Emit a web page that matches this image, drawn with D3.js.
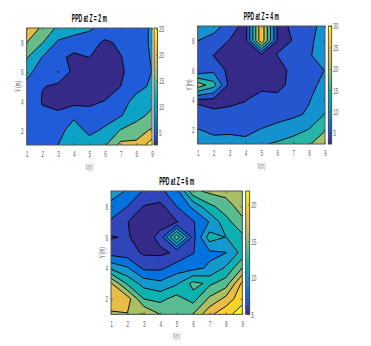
<!DOCTYPE html>
<html>
<head>
<meta charset="utf-8">
<script src="https://cdn.jsdelivr.net/npm/d3@7"></script>
<style>
  html, body { margin: 0; padding: 0; background: #fff; }
  svg { display: block; }
</style>
</head>
<body>
<script>
// grid points, one row per Y from 1 to 9, one column per X from 1 to 9
var xTicks = [1, 2, 3, 4, 5, 6, 7, 8, 9];
var yTicks = [2, 4, 6, 8];

var values2m = [
  8, 9, 10, 11, 12.7, 14.4, 21.5, 21, 28,
  8.2, 8, 7.8, 12.7, 8.5, 11, 15.3, 18, 20.6,
  7.5, 5.5, 5.4, 9, 6.4, 7.5, 9.7, 13, 16.5,
  7.5, 4.8, 4.3, 3.3, 4.2, 5.1, 7.3, 12, 13.5,
  8.5, 5.08, 4.7, 4, 3.2, 3.2, 5, 8, 11,
  11.5, 7.5, 6, 4.7, 3.5, 3, 4.1, 8, 10.05,
  15.4, 9.8, 6.5, 3.7, 5.05, 3.5, 4.8, 7.5, 10.4,
  20, 15.2, 9.2, 8, 7.2, 4.1, 5.9, 7.5, 10.8,
  23, 19.25, 13.9, 12, 10.8, 8.5, 8, 8.5, 10.45
];
var values4m = [
  12, 11.5, 11.5, 11, 14.5, 15.7, 17, 19.7, 22.2,
  10.1, 9, 9.2, 9, 10.1, 11.6, 13.2, 15.05, 19.7,
  5.7, 5.6, 6.4, 7, 8, 8, 9, 10.7, 15.3,
  4.7, 4, 3.8, 4.7, 7.5, 6.4, 8.5, 9.7, 13,
  23, 17, 3.5, 3.2, 3.2, 3.5, 6.5, 8, 12,
  6, 8.7, 3.56, 3, 3, 3.5, 6, 8, 10.1,
  7, 4.9, 3.5, 3, 3, 5.02, 6, 9.8, 11,
  10, 8, 4.74, 3, 29, 4.9, 5.01, 8.5, 13.5,
  13.5, 12, 8, 3, 29, 4.6, 5.2, 8.5, 11.6
];
var values6m = [
  17.5, 17.9, 18.05, 16, 15.3, 16.05, 19.5, 21.5, 22.8,
  19.8, 19, 14, 13.4, 14.8, 13.2, 16.4, 18.6, 21.5,
  18.2, 13.6, 11.2, 10.5, 11.7, 14.6, 13.6, 15, 20.5,
  11.5, 10.2, 7.6, 7.6, 9, 9.4, 10.3, 12.3, 16,
  7.2, 6.9, 5.7, 5.6, 6.3, 7.9, 9.6, 9.95, 12.7,
  5.85, 6.2, 5, 6.6, 15.5, 7.3, 13, 11.95, 13.5,
  7.7, 6.05, 5, 5.2, 5.85, 7.8, 10.1, 13.3, 15.5,
  9.4, 8, 5.9, 5.4, 8, 10.5, 13.5, 15, 17,
  11, 9.8, 7.8, 7.6, 9.2, 15.5, 16.5, 16.8, 17.5
];

var levels2m = [5, 10, 15, 20, 25];
var levels4m = [5, 10, 15, 20, 25];
var levels6m = [6, 8, 10, 12, 14, 16, 18, 20, 22];

var barTicks2m = [5, 10, 15, 20, 25];
var barTicks4m = [5, 10, 15, 20, 25, 30];
var barTicks6m = [5, 10, 15, 20];

var titles = ["PPD at Z = 2 m", "PPD at Z = 4 m", "PPD at Z = 6 m"];

// colormap parula, every few entries
var parula = ["#352a87", "#3145bb", "#1e5fde", "#0272e1", "#1283d4", "#1399cd", "#07a9c2", "#0bb1b1",
  "#2eb7a4", "#56bb91", "#87bf77", "#a8bf64", "#c9bc57", "#e6bc48", "#f9be3a", "#fbd02d", "#f4e323", "#f9fb0e"];
var parulaScale = d3.scaleLinear()
  .domain(d3.range(parula.length).map(function (i) { return i / (parula.length - 1); }))
  .range(parula)
  .clamp(true);

var svg = d3.select("body").append("svg")
  .attr("width", 371)
  .attr("height", 346);

var font = "'Liberation Sans', sans-serif";
var defs = svg.append("defs");

// squeeze the text the way the small picture shows it
function squeeze(sel, perChar) {
  sel.attr("lengthAdjust", "spacingAndGlyphs")
    .attr("textLength", function () { return this.textContent.length * perChar; });
}

function drawPanel(id, box, values, levels, clim, barTicks, title) {
  var x = d3.scaleLinear().domain([1, 9]).range([box.x0, box.x1]);
  var y = d3.scaleLinear().domain([1, 9]).range([box.y1, box.y0]);
  var color = d3.scaleLinear().domain(clim).range([0, 1]);

  var g = svg.append("g");

  defs.append("clipPath").attr("id", "clip" + id)
    .append("rect")
    .attr("x", box.x0)
    .attr("y", box.y0)
    .attr("width", box.x1 - box.x0)
    .attr("height", box.y1 - box.y0);

  // d3 puts the first grid point at 0.5, the first tick of the axis is at 1
  var path = d3.geoPath(d3.geoTransform({
    point: function (px, py) { this.stream.point(x(px + 0.5), y(py + 0.5)); }
  }));

  var thresholds = [clim[0] - 5].concat(levels);
  var contours = d3.contours().size([9, 9]).thresholds(thresholds)(values);

  g.append("g")
    .attr("clip-path", "url(#clip" + id + ")")
    .selectAll("path")
    .data(contours)
    .join("path")
    .attr("d", path)
    .style("fill", function (d) { return parulaScale(color(Math.max(d.value, clim[0]))); })
    .style("stroke", "#000")
    .style("stroke-width", 0.9)
    .style("stroke-linejoin", "round");

  // axes on all four sides, ticks inward
  g.append("g").attr("transform", "translate(0," + box.y1 + ")")
    .call(d3.axisBottom(x).tickValues(xTicks).tickSizeInner(-2).tickSizeOuter(0).tickPadding(6).tickFormat(d3.format("d")));
  g.append("g").attr("transform", "translate(0," + box.y0 + ")")
    .call(d3.axisTop(x).tickValues(xTicks).tickSizeInner(-2).tickSizeOuter(0).tickFormat(""));
  g.append("g").attr("transform", "translate(" + box.x0 + ",0)")
    .call(d3.axisLeft(y).tickValues(yTicks).tickSizeInner(-2).tickSizeOuter(0).tickPadding(3).tickFormat(d3.format("d")));
  g.append("g").attr("transform", "translate(" + box.x1 + ",0)")
    .call(d3.axisRight(y).tickValues(yTicks).tickSizeInner(-2).tickSizeOuter(0).tickFormat(""));

  // colorbar
  var bar = d3.scaleLinear().domain(clim).range([box.y1, box.y0]);
  var grad = defs.append("linearGradient").attr("id", "grad" + id)
    .attr("x1", 0).attr("x2", 0).attr("y1", 1).attr("y2", 0);
  parula.forEach(function (c, i) {
    grad.append("stop").attr("offset", i / (parula.length - 1)).attr("stop-color", c);
  });
  g.append("rect")
    .attr("x", box.bar0)
    .attr("y", box.y0)
    .attr("width", box.bar1 - box.bar0)
    .attr("height", box.y1 - box.y0)
    .style("fill", "url(#grad" + id + ")");
  g.append("g").attr("transform", "translate(" + box.bar1 + ",0)")
    .call(d3.axisRight(bar).tickValues(barTicks).tickSizeInner(-1.5).tickSizeOuter(0).tickPadding(1.5).tickFormat(d3.format("d")));

  g.selectAll(".tick text")
    .style("font-family", font)
    .style("font-size", "9px")
    .style("fill", "#666")
    .call(squeeze, 2.6);
  g.selectAll(".tick line").style("stroke", "#333").style("stroke-width", 0.6);
  g.selectAll(".domain").style("stroke", "none");

  g.append("rect")
    .attr("x", box.x0)
    .attr("y", box.y0)
    .attr("width", box.x1 - box.x0)
    .attr("height", box.y1 - box.y0)
    .style("fill", "none")
    .style("stroke", "#555")
    .style("stroke-width", 1);
  g.append("rect")
    .attr("x", box.bar0)
    .attr("y", box.y0)
    .attr("width", box.bar1 - box.bar0)
    .attr("height", box.y1 - box.y0)
    .style("fill", "none")
    .style("stroke", "#333")
    .style("stroke-width", 0.8);

  g.append("text")
    .attr("x", (box.x0 + box.x1) / 2)
    .attr("y", box.y0 - 6)
    .attr("text-anchor", "middle")
    .style("font-family", font)
    .style("font-size", "10.5px")
    .style("font-weight", "bold")
    .style("fill", "#000")
    .text(title)
    .call(squeeze, 2.5);

  g.append("text")
    .attr("x", (box.x0 + box.x1) / 2)
    .attr("y", box.y1 + 25)
    .attr("text-anchor", "middle")
    .style("font-family", font)
    .style("font-size", "8.5px")
    .style("fill", "#777")
    .text("X(m)")
    .call(squeeze, 1.9);

  g.append("text")
    .attr("transform", "translate(" + (box.x0 - 6) + "," + ((box.y0 + box.y1) / 2) + ") rotate(-90)")
    .attr("text-anchor", "middle")
    .style("font-family", font)
    .style("font-size", "8.5px")
    .style("fill", "#666")
    .text("Y (m)")
    .call(squeeze, 2.2);

  return g;
}

var g2 = drawPanel(1, { x0: 26.7, x1: 152, y0: 28, y1: 145, bar0: 154, bar1: 157.5 },
  values2m, levels2m, [2.5, 25.2], barTicks2m, titles[0]);
drawPanel(2, { x0: 197.7, x1: 325, y0: 26, y1: 144, bar0: 328.3, bar1: 331.7 },
  values4m, levels4m, [2.4, 30], barTicks4m, titles[1]);
drawPanel(3, { x0: 111, x1: 242.3, y0: 191, y1: 314.3, bar0: 245.7, bar1: 249.7 },
  values6m, levels6m, [5, 21.9], barTicks6m, titles[2]);

// the lone point of the 5 level in the first panel, x=3, y=6
var loneX = d3.scaleLinear().domain([1, 9]).range([26.7, 152]);
var loneY = d3.scaleLinear().domain([1, 9]).range([145, 28]);
g2.append("circle")
  .attr("cx", loneX(3))
  .attr("cy", loneY(6))
  .attr("r", 0.8)
  .style("fill", "#000");
</script>
</body>
</html>
